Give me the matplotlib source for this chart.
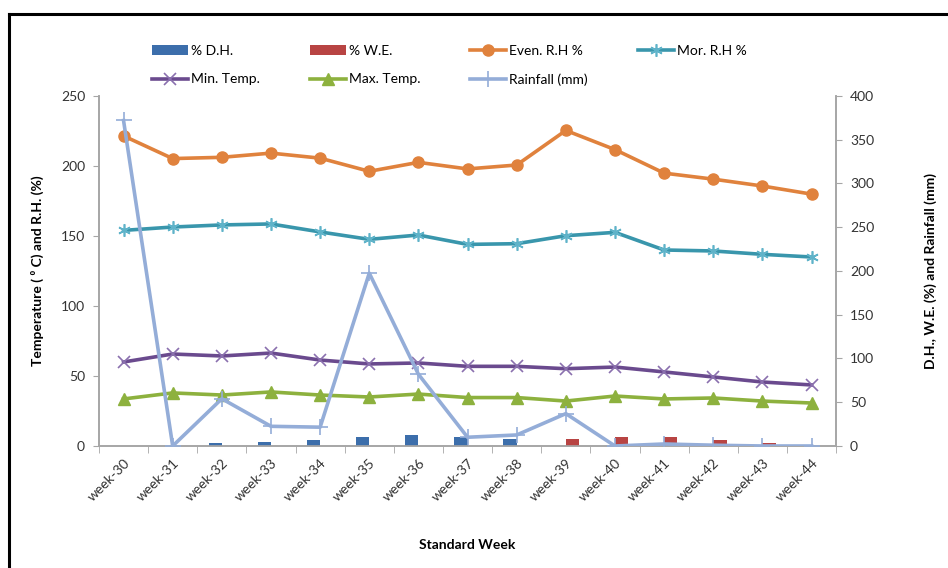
import numpy as np
import matplotlib
matplotlib.use('Agg')
from matplotlib import pyplot as plt
from matplotlib.ticker import MultipleLocator, FixedLocator
from matplotlib.lines import Line2D

plt.rcParams['font.family'] = ['Lato', 'DejaVu Sans']

# datos
semanas = ['week-30', 'week-31', 'week-32', 'week-33', 'week-34', 'week-35', 'week-36', 'week-37',
           'week-38', 'week-39', 'week-40', 'week-41', 'week-42', 'week-43', 'week-44']
dh = [0, 0, 3.4, 4.9, 6.4, 10.5, 12, 10.5, 8.3, 0, 0, 0, 0, 0, 0]
we = [0, 0, 0, 0, 0, 0, 0, 0, 0, 8.3, 9.8, 10.5, 6.4, 3.0, 0]
even_rh = [221.5, 205.3, 206.2, 209.2, 205.6, 196.2, 202.6, 197.9, 200.7, 225.4, 211.7, 194.9, 190.6, 185.7, 179.9]
mor_rh = [154, 156.4, 157.9, 158.6, 152.9, 147.6, 150.7, 144, 144.5, 150.2, 152.6, 140, 139.3, 136.9, 135]
min_temp = [60, 65.7, 64.3, 66.4, 61.4, 58.6, 59.3, 56.9, 56.9, 55.2, 56.4, 52.9, 49.3, 45.7, 43.6]
max_temp = [33.6, 37.9, 36.4, 38.6, 36.4, 35, 37.1, 34.6, 34.6, 32.1, 35.7, 33.6, 34.3, 32.1, 30.7]
lluvia = [372, 0, 54, 22.5, 21.5, 197.5, 82, 10, 12.6, 37, 0, 2.3, 0.9, 0, 0]

x = np.arange(len(semanas))
gris = '#A6A6A6'

fig = plt.figure(figsize=(9.48, 5.68), dpi=100)
ax = fig.add_axes([0.1044, 0.2148, 0.7776, 0.6162])
ax2 = ax.twinx()

# barras en el eje secundario
ancho = 0.27
b1 = ax2.bar(x - ancho / 2, dh, ancho, color='#3C6EAB', label='% D.H.', zorder=2)
b2 = ax2.bar(x + ancho / 2, we, ancho, color='#B84443', label='% W.E.', zorder=2)

l1, = ax.plot(x, even_rh, '-o', color='#E0823D', lw=2.6, ms=8, label='Even. R.H %')
l2, = ax.plot(x, mor_rh, '-', marker=(6, 2, 0), color='#3996AC', lw=2.6, ms=9, mew=1.2,
              mec='#5FB3C9', label='Mor. R.H %')
l3, = ax.plot(x, min_temp, '-x', color='#6A4A8E', lw=2.6, ms=8, mew=1.2, mec='#8A70AE', label='Min. Temp.')
l4, = ax.plot(x, max_temp, '-^', color='#8DB13E', lw=2.6, ms=8, label='Max. Temp.')
l5, = ax2.plot(x, lluvia, '-+', color='#94ADD8', lw=2.6, ms=12, mew=1.2, label='Rainfall (mm)', zorder=3)

ax.set_xlim(-0.5, len(semanas) - 0.5)
ax.set_ylim(0, 250)
ax2.set_ylim(0, 400)
ax.yaxis.set_major_locator(MultipleLocator(50))
ax2.yaxis.set_major_locator(MultipleLocator(50))

ax.set_xticks(x)
ax.set_xticklabels(semanas, rotation=45, ha='right', rotation_mode='anchor', fontsize=10, color='#333333')
ax.xaxis.set_minor_locator(FixedLocator(np.arange(-0.5, len(semanas), 1)))
ax.tick_params(axis='x', which='major', length=0, pad=8)
ax.tick_params(axis='x', which='minor', length=5, color=gris, direction='out')
ax.tick_params(axis='y', length=4, color=gris, labelsize=10, labelcolor='#333333', pad=6)
ax2.tick_params(axis='y', length=4, color=gris, labelsize=10, labelcolor='#333333', pad=6)

for a in (ax, ax2):
    a.spines['top'].set_visible(False)
    for s in ('left', 'right', 'bottom'):
        a.spines[s].set_color(gris)
        a.spines[s].set_linewidth(1.2)

ax.set_ylabel('Temperature ( \u2070 C) and R.H. (%)', fontsize=10, fontweight='bold', labelpad=12)
ax2.set_ylabel('D.H., W.E. (%) and Rainfall (mm)', fontsize=10, fontweight='bold', labelpad=36)
ax2.yaxis.label.set_rotation(90)
ax.set_xlabel('Standard Week', fontsize=10, fontweight='bold', labelpad=25)

# leyenda en dos filas (orden por filas)
hs = [b1, l3, b2, l4, l1, l5, l2]
fig.legend(hs, [h.get_label() for h in hs], ncol=4, loc='center', bbox_to_anchor=(0.474, 0.885),
           frameon=False, fontsize=10, handlelength=2.6, handletextpad=0.2, columnspacing=3.6,
           labelspacing=1.2)

# marco del grafico
fig.add_artist(Line2D([0.0095, 0.0095], [0, 0.975], color='black', lw=2.2, transform=fig.transFigure))
fig.add_artist(Line2D([0.0095, 1.0], [0.975, 0.975], color='black', lw=2.2, transform=fig.transFigure))

fig.savefig('out.png', dpi=100)
